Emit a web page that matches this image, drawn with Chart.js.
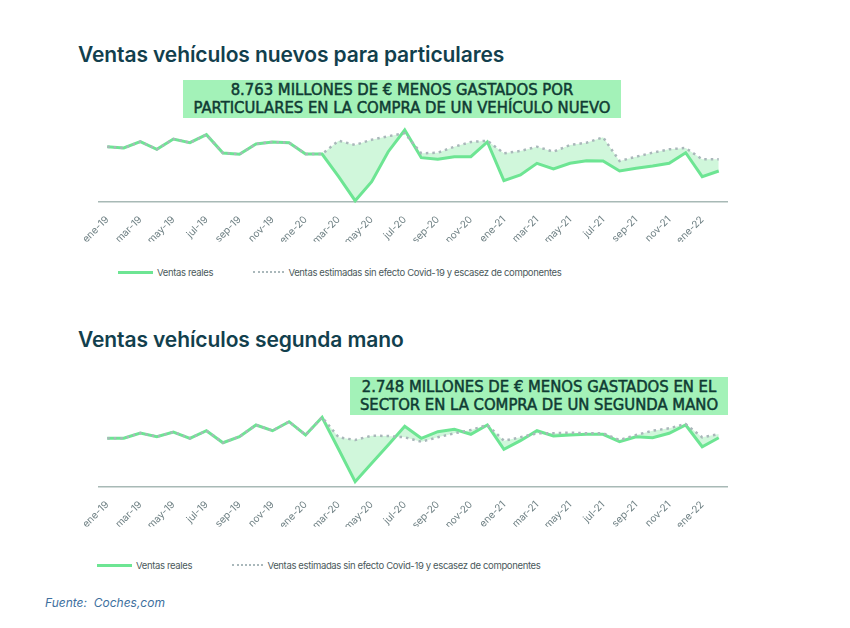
<!DOCTYPE html>
<html>
<head>
<meta charset="utf-8">
<script src="https://cdn.jsdelivr.net/npm/chart.js@4.4.1/dist/chart.umd.min.js"></script>
<style>
  body { margin: 0; background: #fff; width: 850px; height: 628px; position: relative; overflow: hidden; font-family: Inter, "Open Sans", sans-serif; }
  .title { position: absolute; left: 78px; font-size: 21px; font-weight: 600; color: #123f4d; letter-spacing: -0.1px; }
  .note { position: absolute; background: #a3f2b8; color: #0f3b33; font-family: "Liberation Sans Narrow", "DejaVu Sans Condensed", "Roboto", sans-serif; font-size: 16.5px; font-weight: normal; -webkit-text-stroke: 0.5px #0f3b33; line-height: 18px; text-align: center; padding: 1px 0; white-space: nowrap; }
  .box { position: absolute; left: 0; width: 850px; height: 150px; }
  .legend { position: absolute; font-size: 9.5px; color: #4b5a5c; letter-spacing: -0.35px; white-space: nowrap; }
  .legend span { display: inline-block; vertical-align: middle; }
  .sw { width: 35px; margin-right: 4px; }
  .solid { border-top: 3px solid #6de593; }
  .dots { border-top: 2px dotted #aab8bb; margin-left: 3px; }
  .src { position: absolute; left: 45px; top: 595px; font-size: 12px; font-style: italic; color: #3d6f9e; }
</style>
</head>
<body>
<div class="title" style="top:42px">Ventas vehículos nuevos para particulares</div>
<div class="note" style="left:183px; top:80px; width:438px">8.763 MILLONES DE € MENOS GASTADOS POR<br>PARTICULARES EN LA COMPRA DE UN VEHÍCULO NUEVO</div>
<div class="box" style="top:110px"><canvas id="c1"></canvas></div>
<div class="legend" style="left:118px; top:266px">
  <span class="sw solid"></span><span>Ventas reales</span>
  <span class="sw dots" style="margin-left:38px; width:31px"></span><span>Ventas estimadas sin efecto Covid-19 y escasez de componentes</span>
</div>

<div class="title" style="top:327px">Ventas vehículos segunda mano</div>
<div class="note" style="left:350px; top:377px; width:378px">2.748 MILLONES DE € MENOS GASTADOS EN EL<br>SECTOR EN LA COMPRA DE UN SEGUNDA MANO</div>
<div class="box" style="top:395px"><canvas id="c2"></canvas></div>
<div class="legend" style="left:97px; top:559px">
  <span class="sw solid"></span><span>Ventas reales</span>
  <span class="sw dots" style="margin-left:38px; width:31px"></span><span>Ventas estimadas sin efecto Covid-19 y escasez de componentes</span>
</div>

<div class="src">Fuente:&nbsp; Coches,com</div>

<script>
// meses ene-19 .. feb-22
const months = ['ene-19','feb-19','mar-19','abr-19','may-19','jun-19','jul-19','ago-19','sep-19','oct-19','nov-19','dic-19',
  'ene-20','feb-20','mar-20','abr-20','may-20','jun-20','jul-20','ago-20','sep-20','oct-20','nov-20','dic-20',
  'ene-21','feb-21','mar-21','abr-21','may-21','jun-21','jul-21','ago-21','sep-21','oct-21','nov-21','dic-21',
  'ene-22','feb-22'];

// nuevos particulares (escala relativa, sin eje visible)
const nuevosReales = [55, 53.7, 60, 52.4, 62.7, 59, 67, 48.7, 47.4, 57.7, 59.7, 59,
  47.7, 47.7, 25, 1, 20, 50, 71.7, 44, 42.4, 45, 45, 59.7,
  21, 26.7, 38.4, 32.7, 38.4, 41, 40.7, 30.7, 33.4, 35.7, 38.4, 49,
  25, 30.7];
const nuevosEstimadas = [55, 53.7, 60, 52.4, 62.7, 59, 67, 48.7, 47.4, 57.7, 59.7, 59,
  47.7, 47.7, 61, 56.7, 62, 65.5, 68.4, 48.4, 49, 55, 59.7, 61,
  48.4, 50.7, 55, 50, 56.7, 59, 64.4, 40.7, 45, 49, 52.4, 53.7,
  42.4, 42.4];

// segunda mano
const usadosReales = [48.4, 48.4, 53.7, 50, 54.7, 48.4, 56, 44, 50, 61.7, 56, 65,
  51.7, 69.4, 37.4, 5, 23.4, 41.7, 60.5, 48.4, 55, 57.4, 52.4, 61.7,
  37.4, 46, 56, 50.7, 51.7, 52.4, 52.4, 45, 50, 49, 53.4, 61.7,
  40, 49];
const usadosEstimadas = [48.4, 48.4, 53.7, 50, 54.7, 48.4, 56, 44, 50, 61.7, 56, 65,
  51.7, 69.4, 49.4, 46.7, 51, 50.7, 49.4, 45, 49.4, 53.4, 56.7, 61.7,
  46, 49.4, 53.4, 53.4, 54, 53.4, 53.4, 46.7, 51.7, 56, 58.4, 62.7,
  49.4, 52.7];

function makeChart(id, real, est) {
  return new Chart(document.getElementById(id), {
    type: 'line',
    data: {
      labels: months,
      datasets: [
        {
          label: 'Ventas estimadas sin efecto Covid-19 y escasez de componentes',
          data: est,
          borderColor: '#a9b7ba',
          borderWidth: 2.5,
          borderDash: [2.5, 4],
          pointRadius: 0,
          tension: 0,
          fill: false,
          clip: 5
        },
        {
          label: 'Ventas reales',
          data: real,
          borderColor: '#6de593',
          backgroundColor: 'rgba(170, 240, 190, 0.55)',
          borderWidth: 3,
          pointRadius: 0,
          tension: 0,
          fill: 0,
          clip: 5
        }
      ]
    },
    options: {
      responsive: true,
      maintainAspectRatio: false,
      animation: false,
      layout: { padding: { left: 99, right: 123, top: 11.7, bottom: 18.3 } },
      plugins: { legend: { display: false }, tooltip: { enabled: false } },
      scales: {
        x: {
          offset: true,
          grid: { display: false, drawTicks: false },
          border: { display: true, color: '#a8b9b6', width: 1.5 },
          afterFit: (s) => { s.height = 40; },
          ticks: {
            autoSkip: false,
            maxRotation: 45,
            minRotation: 45,
            padding: 12,
            color: '#6f8084',
            font: { family: 'Inter', size: 10 },
            callback: (v, i) => (i % 2 === 0 ? months[i] : '')
          }
        },
        y: { display: false, min: 0, max: 80 }
      }
    }
  });
}

makeChart('c1', nuevosReales, nuevosEstimadas);
makeChart('c2', usadosReales, usadosEstimadas);
</script>
</body>
</html>
